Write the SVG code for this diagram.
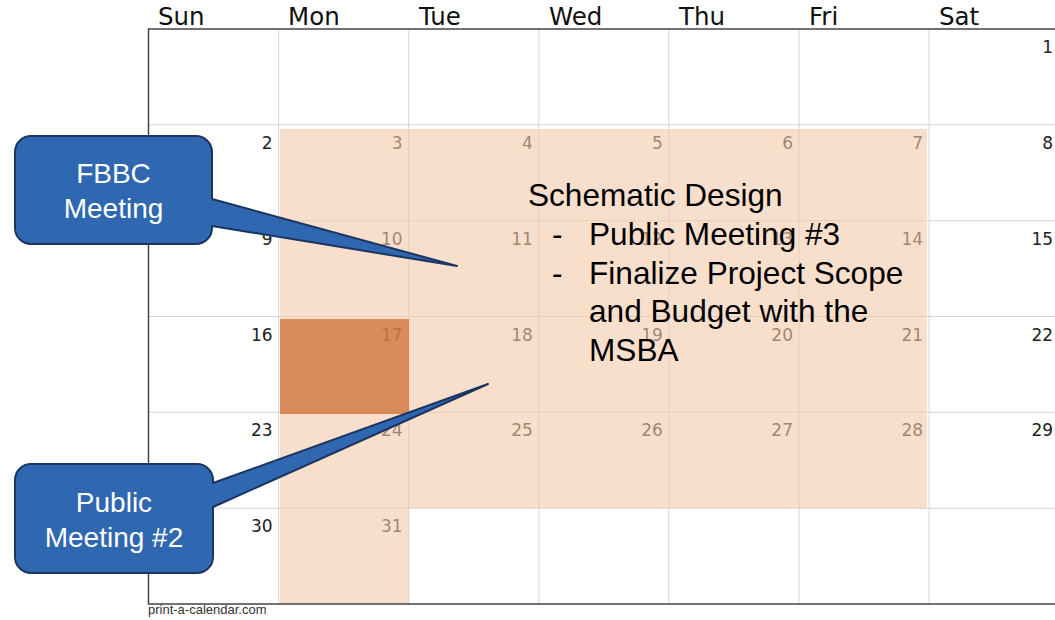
<svg xmlns="http://www.w3.org/2000/svg" width="1055" height="620" viewBox="0 0 1055 620">
<style>
.hdr{font-family:"DejaVu Sans",Verdana,sans-serif;font-size:24.5px;fill:#111}
.num{font-family:"DejaVu Sans",Verdana,sans-serif;font-size:17px;fill:#222;text-anchor:end}
.grid{stroke:#d4d4d4;stroke-width:1;fill:none}
.border{stroke:#444;stroke-width:1.5;fill:none}
.callout{fill:#2f67b0;stroke:#1b3560;stroke-width:2;stroke-linejoin:round}
.ctext{font-family:"Liberation Sans",Arial,sans-serif;font-size:28px;fill:#fff;text-anchor:middle}
.body{font-family:"Liberation Sans",Arial,sans-serif;font-size:31.6px;fill:#000}
.foot{font-family:"Liberation Sans",Arial,sans-serif;font-size:13px;fill:#333}
</style>
<rect x="0" y="0" width="1055" height="620" fill="#fff"/>
<g id="calendar">
  <g id="headers">
    <text class="hdr" x="158" y="25">Sun</text>
    <text class="hdr" x="288" y="25">Mon</text>
    <text class="hdr" x="419" y="25">Tue</text>
    <text class="hdr" x="549" y="25">Wed</text>
    <text class="hdr" x="679" y="25">Thu</text>
    <text class="hdr" x="809" y="25">Fri</text>
    <text class="hdr" x="939" y="25">Sat</text>
  </g>
  <g id="gridlines">
    <path class="grid" d="M278.6,29V604 M408.7,29V604 M538.8,29V604 M668.9,29V604 M799,29V604 M929.1,29V604"/>
    <path class="grid" d="M148.5,124.8H1055 M148.5,220.7H1055 M148.5,316.5H1055 M148.5,412.3H1055 M148.5,508.2H1055"/>
    <path class="border" d="M1055,29H148.5V604H1055"/>
  </g>
  <g id="dates">
    <text class="num" x="1053.2" y="53">1</text>
    <text class="num" x="272.6" y="149">2</text>
    <text class="num" x="402.7" y="149">3</text>
    <text class="num" x="532.8" y="149">4</text>
    <text class="num" x="662.9" y="149">5</text>
    <text class="num" x="793" y="149">6</text>
    <text class="num" x="923.1" y="149">7</text>
    <text class="num" x="1053.2" y="149">8</text>
    <text class="num" x="272.6" y="245">9</text>
    <text class="num" x="402.7" y="245">10</text>
    <text class="num" x="532.8" y="245">11</text>
    <text class="num" x="662.9" y="245">12</text>
    <text class="num" x="793" y="245">13</text>
    <text class="num" x="923.1" y="245">14</text>
    <text class="num" x="1053.2" y="245">15</text>
    <text class="num" x="272.6" y="340.5">16</text>
    <text class="num" x="402.7" y="340.5">17</text>
    <text class="num" x="532.8" y="340.5">18</text>
    <text class="num" x="662.9" y="340.5">19</text>
    <text class="num" x="793" y="340.5">20</text>
    <text class="num" x="923.1" y="340.5">21</text>
    <text class="num" x="1053.2" y="340.5">22</text>
    <text class="num" x="272.6" y="436.3">23</text>
    <text class="num" x="402.7" y="436.3">24</text>
    <text class="num" x="532.8" y="436.3">25</text>
    <text class="num" x="662.9" y="436.3">26</text>
    <text class="num" x="793" y="436.3">27</text>
    <text class="num" x="923.1" y="436.3">28</text>
    <text class="num" x="1053.2" y="436.3">29</text>
    <text class="num" x="272.6" y="532.2">30</text>
    <text class="num" x="402.7" y="532.2">31</text>
  </g>
  <text class="foot" x="148" y="614">print-a-calendar.com</text>
</g>
<g id="shading">
  <path d="M280,129H927V508.2H409V603H280Z" fill="#f4c9aa" fill-opacity="0.6"/>
  <rect id="highlight" x="280" y="319" width="129" height="95" fill="#cc6729" fill-opacity="0.7"/>
</g>
<g id="schematic-text">
  <text class="body" x="528" y="206">Schematic Design</text>
  <text class="body" x="552" y="245">-</text>
  <text class="body" x="589" y="245">Public Meeting #3</text>
  <text class="body" x="552" y="284">-</text>
  <text class="body" x="589" y="284">Finalize Project Scope</text>
  <text class="body" x="589" y="322">and Budget with the</text>
  <text class="body" x="589" y="361">MSBA</text>
</g>
<g id="connectors"></g>
<g id="callout-fbbc">
  <path class="callout" d="M31,136H196A16,16 0 0 1 212,152V199L457,266L212,226V228A16,16 0 0 1 196,244H31A16,16 0 0 1 15,228V152A16,16 0 0 1 31,136Z"/>
  <text class="ctext" x="113.5" y="183">FBBC</text>
  <text class="ctext" x="113.5" y="218">Meeting</text>
</g>
<g id="callout-public">
  <path class="callout" d="M31,464H197A16,16 0 0 1 213,480V483L488,384L213,507V557A16,16 0 0 1 197,573H31A16,16 0 0 1 15,557V480A16,16 0 0 1 31,464Z"/>
  <text class="ctext" x="114" y="512">Public</text>
  <text class="ctext" x="114" y="547">Meeting #2</text>
</g>
</svg>
